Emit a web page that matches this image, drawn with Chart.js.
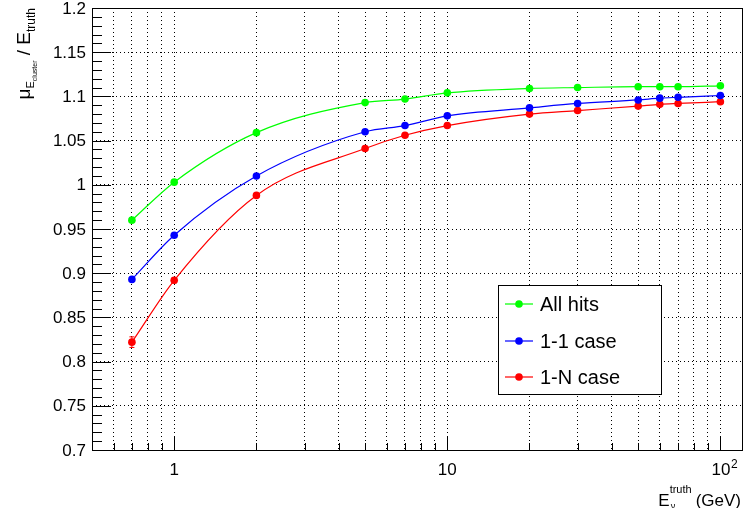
<!DOCTYPE html>
<html>
<head>
<meta charset="utf-8">
<script src="https://cdn.jsdelivr.net/npm/chart.js@4"></script>
<style>
  html, body { margin: 0; padding: 0; background: #fff; }
  #wrap { width: 751px; height: 508px; }
</style>
</head>
<body>
<div id="wrap"><canvas id="myChart" width="751" height="508"></canvas></div>
<script>
// energies (GeV)
const energies = [0.7, 1, 2, 5, 7, 10, 20, 30, 50, 60, 70, 100];

// mean cluster energy / true energy
const allHits = [0.960, 1.003, 1.059, 1.093, 1.097, 1.104, 1.109, 1.110, 1.111, 1.111, 1.111, 1.112];
const oneOne  = [0.893, 0.943, 1.010, 1.060, 1.067, 1.078, 1.087, 1.092, 1.096, 1.098, 1.099, 1.101];
const oneN    = [0.822, 0.892, 0.988, 1.041, 1.056, 1.067, 1.080, 1.084, 1.089, 1.091, 1.092, 1.094];
const errOneN = [0.006, 0.003, 0.002, 0.001, 0.001, 0.001, 0.001, 0.001, 0.001, 0.001, 0.001, 0.001];

const seriesNames = ['All hits', '1-1 case', '1-N case'];
const seriesColors = ['#00ff00', '#0000ff', '#ff0000'];

// axis ticks
const xGrid = [0.6, 0.7, 0.8, 0.9, 1, 2, 3, 4, 5, 6, 7, 8, 9, 10, 20, 30, 40, 50, 60, 70, 80, 90, 100];
const xMajor = [1, 10, 100];
const yLabels = ['0.7', '0.75', '0.8', '0.85', '0.9', '0.95', '1', '1.05', '1.1', '1.15', '1.2'];

const FONT = '"Liberation Sans", Arial, sans-serif';

function toPoints(ys) {
    return energies.map((e, i) => ({ x: e, y: ys[i] }));
}

function makeSet(idx, ys) {
    return {
        label: seriesNames[idx],
        data: toPoints(ys),
        borderColor: seriesColors[idx],
        backgroundColor: seriesColors[idx],
        borderWidth: 1.2,
        pointRadius: 3.8,
        pointBorderWidth: 0,
        cubicInterpolationMode: 'monotone',
        fill: false
    };
}

// ROOT-like frame, ticks, labels, legend
const rootStyle = {
    id: 'rootStyle',
    beforeDatasetsDraw(chart) {
        // error bars for the 1-N case
        const ctx = chart.ctx;
        const xs = chart.scales.x, ys = chart.scales.y;
        ctx.save();
        ctx.strokeStyle = seriesColors[2];
        ctx.lineWidth = 1;
        energies.forEach((e, i) => {
            const px = xs.getPixelForValue(e);
            const top = ys.getPixelForValue(oneN[i] + errOneN[i]);
            const bot = ys.getPixelForValue(oneN[i] - errOneN[i]);
            ctx.beginPath();
            ctx.moveTo(px, top); ctx.lineTo(px, bot);
            ctx.moveTo(px - 2.5, top); ctx.lineTo(px + 2.5, top);
            ctx.moveTo(px - 2.5, bot); ctx.lineTo(px + 2.5, bot);
            ctx.stroke();
        });
        ctx.restore();
    },
    afterDraw(chart) {
        const ctx = chart.ctx;
        const a = chart.chartArea;
        const xs = chart.scales.x, ys = chart.scales.y;
        ctx.save();

        // frame
        ctx.strokeStyle = '#000';
        ctx.lineWidth = 1;
        ctx.strokeRect(Math.round(a.left) + 0.5, Math.round(a.top) + 0.5,
            Math.round(a.right - a.left), Math.round(a.bottom - a.top));

        // y ticks
        ctx.beginPath();
        for (let k = 0; k <= 50; k++) {
            const v = 0.7 + k * 0.01;
            const py = Math.round(ys.getPixelForValue(v)) + 0.5;
            const len = (k % 5 === 0) ? 19 : 10;
            ctx.moveTo(a.left, py); ctx.lineTo(a.left + len, py);
        }
        // x ticks
        xGrid.forEach(v => {
            const px = Math.round(xs.getPixelForValue(v)) + 0.5;
            const len = xMajor.includes(v) ? 14 : 7;
            ctx.moveTo(px, a.bottom); ctx.lineTo(px, a.bottom - len);
        });
        ctx.stroke();

        // y labels
        ctx.fillStyle = '#000';
        ctx.font = '17px ' + FONT;
        ctx.textAlign = 'right';
        ctx.textBaseline = 'middle';
        yLabels.forEach(t => {
            ctx.fillText(t, a.left - 6, ys.getPixelForValue(parseFloat(t)) + 1);
        });

        // x labels
        ctx.textBaseline = 'alphabetic';
        ctx.textAlign = 'center';
        ctx.fillText('1', xs.getPixelForValue(1), 475);
        ctx.fillText('10', xs.getPixelForValue(10), 475);
        const p100 = xs.getPixelForValue(100);
        ctx.textAlign = 'right';
        ctx.fillText('10', p100 + 10, 475);
        ctx.textAlign = 'left';
        ctx.font = '12px ' + FONT;
        ctx.fillText('2', p100 + 10.5, 468);

        // x title: E_nu^truth (GeV)
        ctx.textAlign = 'right';
        ctx.font = '17px ' + FONT;
        ctx.fillText('(GeV)', 741, 506);
        const gw = ctx.measureText('(GeV)').width;
        ctx.font = '11px ' + FONT;
        const tw = ctx.measureText('truth').width;
        const tx = 741 - gw - 4;
        ctx.fillText('truth', tx, 493);
        ctx.textAlign = 'left';
        ctx.font = '9px ' + FONT;
        ctx.fillText('\u03bd', tx - tw + 1, 509);
        ctx.textAlign = 'right';
        ctx.font = '17px ' + FONT;
        ctx.fillText('E', tx - tw, 506);

        // y title: mu_{E_cluster} / E_truth, rotated
        const segs = [
            { t: '\u03bc', f: 19, d: 0 },
            { t: 'E', f: 11, d: 4 },
            { t: 'cluster', f: 7, d: 7 },
            { t: ' / E', f: 19, d: 0 },
            { t: 'truth', f: 12, d: 5 }
        ];
        let total = 0;
        segs.forEach(s => { ctx.font = s.f + 'px ' + FONT; s.w = ctx.measureText(s.t).width; total += s.w; });
        ctx.translate(30, 8 + total);
        ctx.rotate(-Math.PI / 2);
        ctx.textAlign = 'left';
        let cx = 0;
        segs.forEach(s => {
            ctx.font = s.f + 'px ' + FONT;
            ctx.fillText(s.t, cx, s.d);
            cx += s.w;
        });
        ctx.setTransform(1, 0, 0, 1, 0, 0);

        // legend
        const lx = 498.5, ly = 285.5, lw = 163, lh = 109;
        ctx.fillStyle = '#fff';
        ctx.fillRect(lx, ly, lw, lh);
        ctx.strokeStyle = '#000';
        ctx.strokeRect(lx, ly, lw, lh);
        const rows = [304, 341, 377];
        chart.data.datasets.forEach((ds, i) => {
            const y = rows[i];
            ctx.strokeStyle = ds.borderColor;
            ctx.lineWidth = 1.2;
            ctx.beginPath();
            ctx.moveTo(505, y); ctx.lineTo(533, y);
            ctx.stroke();
            ctx.fillStyle = ds.backgroundColor;
            ctx.beginPath();
            ctx.arc(519, y, 3.8, 0, Math.PI * 2);
            ctx.fill();
            ctx.fillStyle = '#000';
            ctx.font = '20px ' + FONT;
            ctx.textAlign = 'left';
            ctx.textBaseline = 'middle';
            ctx.fillText(ds.label, 540, y + 1);
        });
        ctx.restore();
    }
};

new Chart(document.getElementById('myChart'), {
    type: 'line',
    data: {
        datasets: [makeSet(0, allHits), makeSet(1, oneOne), makeSet(2, oneN)]
    },
    options: {
        responsive: false,
        animation: false,
        layout: { padding: { left: 92, right: 9, top: 8, bottom: 58 } },
        plugins: { legend: { display: false }, tooltip: { enabled: false } },
        scales: {
            x: {
                type: 'logarithmic',
                min: 0.5,
                max: 120,
                afterBuildTicks: scale => { scale.ticks = xGrid.map(v => ({ value: v })); },
                ticks: { display: false },
                grid: { color: '#000', lineWidth: 1, drawTicks: false },
                border: { display: false, dash: [1, 3] }
            },
            y: {
                min: 0.7,
                max: 1.2,
                afterBuildTicks: scale => { scale.ticks = yLabels.map(t => ({ value: parseFloat(t) })); },
                ticks: { display: false },
                grid: { color: '#000', lineWidth: 1, drawTicks: false },
                border: { display: false, dash: [1, 3] }
            }
        }
    },
    plugins: [rootStyle]
});
</script>
</body>
</html>
